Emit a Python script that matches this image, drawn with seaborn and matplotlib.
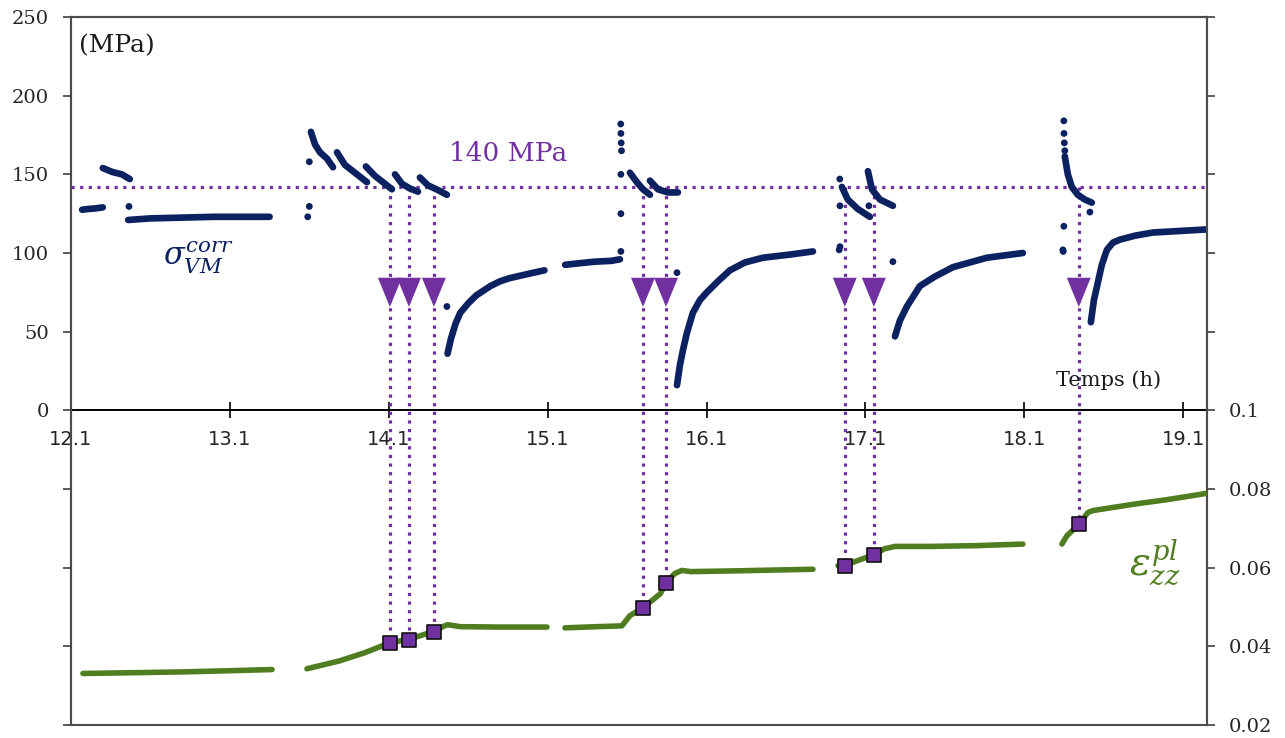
import numpy as np
import pandas as pd
import matplotlib
matplotlib.use("Agg")
import matplotlib.pyplot as plt
import seaborn as sns
from matplotlib.path import Path
from matplotlib.ticker import FixedLocator, FuncFormatter

# ---------------- data ----------------
# Von Mises stress segments: time (h), stress (MPa)
t_s1 = [12.17, 12.21, 12.25, 12.30]
v_s1 = [127.5, 128.0, 128.3, 129.0]
t_s2 = [12.30, 12.36, 12.42, 12.47]
v_s2 = [154.0, 151.5, 150.0, 147.0]
t_s3 = [12.46, 12.60, 12.80, 13.00, 13.20, 13.35]
v_s3 = [121.0, 122.0, 122.5, 123.0, 123.0, 123.0]
t_t1 = [13.610, 13.636, 13.667, 13.711, 13.749]
v_t1 = [177.0, 169.0, 164.0, 160.0, 154.5]
t_t2 = [13.774, 13.824, 13.887, 13.963]
v_t2 = [164.0, 156.0, 151.0, 145.0]
t_t3 = [13.956, 14.013, 14.076, 14.120]
v_t3 = [155.0, 149.0, 144.0, 140.5]
t_t4 = [14.139, 14.183, 14.233, 14.284]
v_t4 = [150.0, 144.0, 141.0, 139.0]
t_t5 = [14.296, 14.347, 14.410, 14.466]
v_t5 = [148.0, 143.0, 140.0, 137.0]
t_r1 = [14.47, 14.49, 14.52, 14.55, 14.60, 14.65, 14.74, 14.80, 14.86, 14.99, 15.08]
v_r1 = [36.0, 45.0, 55.0, 62.0, 68.0, 73.0, 79.0, 82.0, 84.0, 87.0, 89.0]
t_s5 = [15.21, 15.30, 15.40, 15.50, 15.555]
v_s5 = [92.5, 93.5, 94.5, 95.0, 96.0]
t_t6 = [15.618, 15.662, 15.700, 15.744]
v_t6 = [151.0, 145.0, 140.5, 137.0]
t_t7 = [15.744, 15.794, 15.857, 15.920]
v_t7 = [146.0, 140.5, 138.5, 138.5]
t_r2 = [15.914, 15.933, 15.951, 15.976, 16.014, 16.058, 16.102, 16.172,
        16.247, 16.342, 16.455, 16.625, 16.770]
v_r2 = [16.0, 29.0, 38.0, 49.0, 62.0, 70.0, 75.0, 82.0, 89.0, 94.0, 97.0, 99.0, 101.0]
t_t8 = [16.952, 16.989, 17.052, 17.128]
v_t8 = [142.0, 134.0, 128.0, 123.0]
t_t9 = [17.116, 17.141, 17.191, 17.273]
v_t9 = [152.0, 140.5, 134.0, 130.0]
t_r3 = [17.286, 17.317, 17.361, 17.443, 17.537, 17.651, 17.865, 18.091]
v_r3 = [47.0, 57.0, 66.0, 79.0, 85.0, 91.0, 97.0, 100.0]
t_t10 = [18.355, 18.374, 18.399, 18.437, 18.481, 18.525]
v_t10 = [161.5, 150.0, 142.0, 137.0, 134.0, 132.0]
t_r4 = [18.519, 18.538, 18.557, 18.588, 18.620, 18.658, 18.702, 18.796,
        18.909, 19.079, 19.249]
v_r4 = [56.0, 70.0, 78.5, 92.5, 102.0, 106.6, 108.5, 111.0, 113.0, 114.0, 115.0]

# isolated stress points
t_pts = [12.465, 13.60, 13.60, 13.59, 14.466, 15.560, 15.561, 15.563, 15.565,
         15.561, 15.561, 15.561, 15.914, 16.939, 16.940, 16.935, 16.940, 17.122,
         17.273, 18.349, 18.350, 18.352, 18.355, 18.349, 18.343, 18.345, 18.513]
v_pts = [129.6, 158.0, 129.6, 123.0, 66.0, 182.0, 176.0, 170.0, 165.0,
         150.0, 125.0, 101.0, 87.5, 147.0, 130.0, 102.0, 104.0, 130.0,
         94.5, 184.0, 176.0, 170.0, 165.0, 117.0, 102.0, 101.0, 126.0]

# plastic strain segments: time (h), strain
t_e1 = [12.175, 12.5, 12.8, 13.1, 13.365]
e_e1 = [0.0331, 0.0333, 0.0335, 0.0338, 0.0341]
t_e2 = [13.585, 13.79, 13.95, 14.107, 14.227, 14.384, 14.44, 14.47, 14.55, 14.80, 15.096]
e_e2 = [0.0343, 0.0363, 0.0384, 0.0409, 0.0418, 0.0438, 0.0450, 0.0455, 0.0450, 0.0449, 0.0449]
t_e3 = [15.209, 15.41, 15.567, 15.618, 15.70, 15.81, 15.845, 15.90, 15.945, 16.0, 16.3, 16.77]
e_e3 = [0.0447, 0.0450, 0.0452, 0.0478, 0.0498, 0.0534, 0.0562, 0.0585, 0.0593,
        0.0590, 0.0592, 0.0596]
t_e4 = [16.927, 16.97, 17.153, 17.22, 17.286, 17.5, 17.8, 18.091]
e_e4 = [0.0605, 0.0606, 0.0633, 0.0648, 0.0654, 0.0654, 0.0656, 0.0660]
t_e5 = [18.337, 18.368, 18.443, 18.50, 18.53, 18.8, 19.0, 19.249]
e_e5 = [0.0660, 0.0681, 0.0710, 0.0740, 0.0745, 0.0762, 0.0773, 0.0789]

# threshold crossings
threshold = 142.0
cross_t = [14.107, 14.227, 14.384, 15.70, 15.845, 16.97, 17.153, 18.443]
cross_e = [0.0409, 0.0417, 0.0437, 0.0498, 0.0562, 0.0605, 0.0633, 0.0710]
arrow_level = 75.0

x_ticks = [12.1, 13.1, 14.1, 15.1, 16.1, 17.1, 18.1, 19.1]

# ---------------- style ----------------
NAVY = "#0b2160"
GREEN = "#4f7d1f"
PURPLE = "#7030a0"
SPINE = "#4d4d4d"

sns.set_style("white")
plt.rcParams["font.family"] = ["DejaVu Serif"]
plt.rcParams["mathtext.fontset"] = "dejavuserif"

fig = plt.figure(figsize=(12.85, 7.38), dpi=100)
ax = fig.add_axes([71 / 1285, 13 / 738, (1207 - 71) / 1285, (725 - 17) / 738])
ax2 = ax.twinx()

L_MIN, L_MAX = -200, 250
R_MIN, R_MAX = 0.02, 0.2
X_MIN, X_MAX = 12.1, 19.25
ax.set_xlim(X_MIN, X_MAX)
ax.set_ylim(L_MIN, L_MAX)
ax2.set_ylim(R_MIN, R_MAX)


def strain_to_left(e):
    return L_MIN + (np.asarray(e) - R_MIN) / (R_MAX - R_MIN) * (L_MAX - L_MIN)


# stress segments
sig_segs = [(t_s1, v_s1), (t_s2, v_s2), (t_s3, v_s3), (t_t1, v_t1), (t_t2, v_t2),
            (t_t3, v_t3), (t_t4, v_t4), (t_t5, v_t5), (t_r1, v_r1), (t_s5, v_s5),
            (t_t6, v_t6), (t_t7, v_t7), (t_r2, v_r2), (t_t8, v_t8), (t_t9, v_t9),
            (t_r3, v_r3), (t_t10, v_t10), (t_r4, v_r4)]
for t, v in sig_segs:
    df = pd.DataFrame({"t": t, "v": v})
    sns.lineplot(data=df, x="t", y="v", ax=ax, color=NAVY, lw=4.8,
                 sort=False, estimator=None, solid_capstyle="round",
                 solid_joinstyle="round", zorder=5)
sns.scatterplot(x=t_pts, y=v_pts, ax=ax, color=NAVY, s=24, edgecolor="none", zorder=5)

# threshold line
ax.axhline(threshold, color=PURPLE, lw=2.3, ls=(0, (1, 1.7)), zorder=3)

# vertical dotted lines from threshold down to the strain curve
for t, e in zip(cross_t, cross_e):
    ax.plot([t, t], [threshold, float(strain_to_left(e))], color=PURPLE,
            lw=2.3, ls=(0, (1, 1.7)), zorder=3)

# down triangles
tri = Path([(-0.82, 1.0), (0.82, 1.0), (0.0, -1.0), (-0.82, 1.0)],
           [Path.MOVETO, Path.LINETO, Path.LINETO, Path.CLOSEPOLY])
sns.scatterplot(x=cross_t, y=[arrow_level] * len(cross_t), ax=ax, marker=tri,
                s=21 ** 2, color=PURPLE, edgecolor="none", zorder=6)

# strain segments
eps_segs = [(t_e1, e_e1), (t_e2, e_e2), (t_e3, e_e3), (t_e4, e_e4), (t_e5, e_e5)]
for t, e in eps_segs:
    df = pd.DataFrame({"t": t, "e": e})
    sns.lineplot(data=df, x="t", y="e", ax=ax2, color=GREEN, lw=4.0,
                 sort=False, estimator=None, solid_capstyle="round",
                 solid_joinstyle="round", zorder=4)
sns.scatterplot(x=cross_t, y=cross_e, ax=ax2, marker="s", s=10.5 ** 2,
                color=PURPLE, edgecolor="#111111", linewidth=1.2, zorder=7)

# ---------------- axes ----------------
ax.spines["bottom"].set_position(("data", 0))
ax.spines["bottom"].set_color("black")
ax.spines["bottom"].set_linewidth(1.4)
for sp in ["left", "top", "right"]:
    ax.spines[sp].set_color(SPINE)
    ax.spines[sp].set_linewidth(1.5)
for sp in ["left", "top", "right", "bottom"]:
    ax2.spines[sp].set_color(SPINE)
    ax2.spines[sp].set_linewidth(1.5)
ax2.spines["bottom"].set_position(("axes", 0))

ax.xaxis.set_major_locator(FixedLocator(x_ticks))
ax.xaxis.set_major_formatter(FuncFormatter(lambda v, p: f"{v:.1f}"))
ax.tick_params(axis="x", direction="inout", length=11, width=1.2, color="black",
               labelsize=14, pad=9, bottom=True, labelcolor="#262626")
for lab in ax.get_xticklabels():
    lab.set_family("DejaVu Sans")

ax.yaxis.set_major_locator(FixedLocator(np.arange(L_MIN, L_MAX + 1, 50)))
ax.yaxis.set_major_formatter(FuncFormatter(lambda v, p: f"{v:.0f}" if v >= 0 else ""))
ax.tick_params(axis="y", direction="out", length=6, width=1.3, color=SPINE,
               labelsize=14, pad=10, left=True, labelcolor="#262626")

ax2.yaxis.set_major_locator(FixedLocator(np.round(np.arange(R_MIN, R_MAX + 1e-9, 0.02), 2)))
ax2.yaxis.set_major_formatter(FuncFormatter(lambda v, p: f"{v:g}" if v <= 0.1 + 1e-9 else ""))
ax2.tick_params(axis="y", direction="out", length=6, width=1.3, color=SPINE,
                labelsize=14, pad=10, right=True, labelcolor="#262626")
ax.set_xlabel("")
ax.set_ylabel("")
ax2.set_ylabel("")
ax.grid(False)
ax2.grid(False)

# ---------------- texts ----------------
ax.text(12.15, 232, "(MPa)", fontsize=18, ha="left", va="center", color="#1a1a1a")
ax.text(14.85, 163, "140 MPa", fontsize=19, ha="center", va="center", color=PURPLE)
ax.text(18.63, 19, "Temps (h)", fontsize=15, ha="center", va="center", color="#1a1a1a")
ax.text(12.9, 97, r"$\sigma_{VM}^{corr}$", fontsize=22, ha="center", va="center",
        color=NAVY)
ax.text(18.92, -97, r"$\varepsilon_{zz}^{pl}$", fontsize=28, ha="center", va="center",
        color=GREEN)

fig.savefig("out.png", dpi=100)
